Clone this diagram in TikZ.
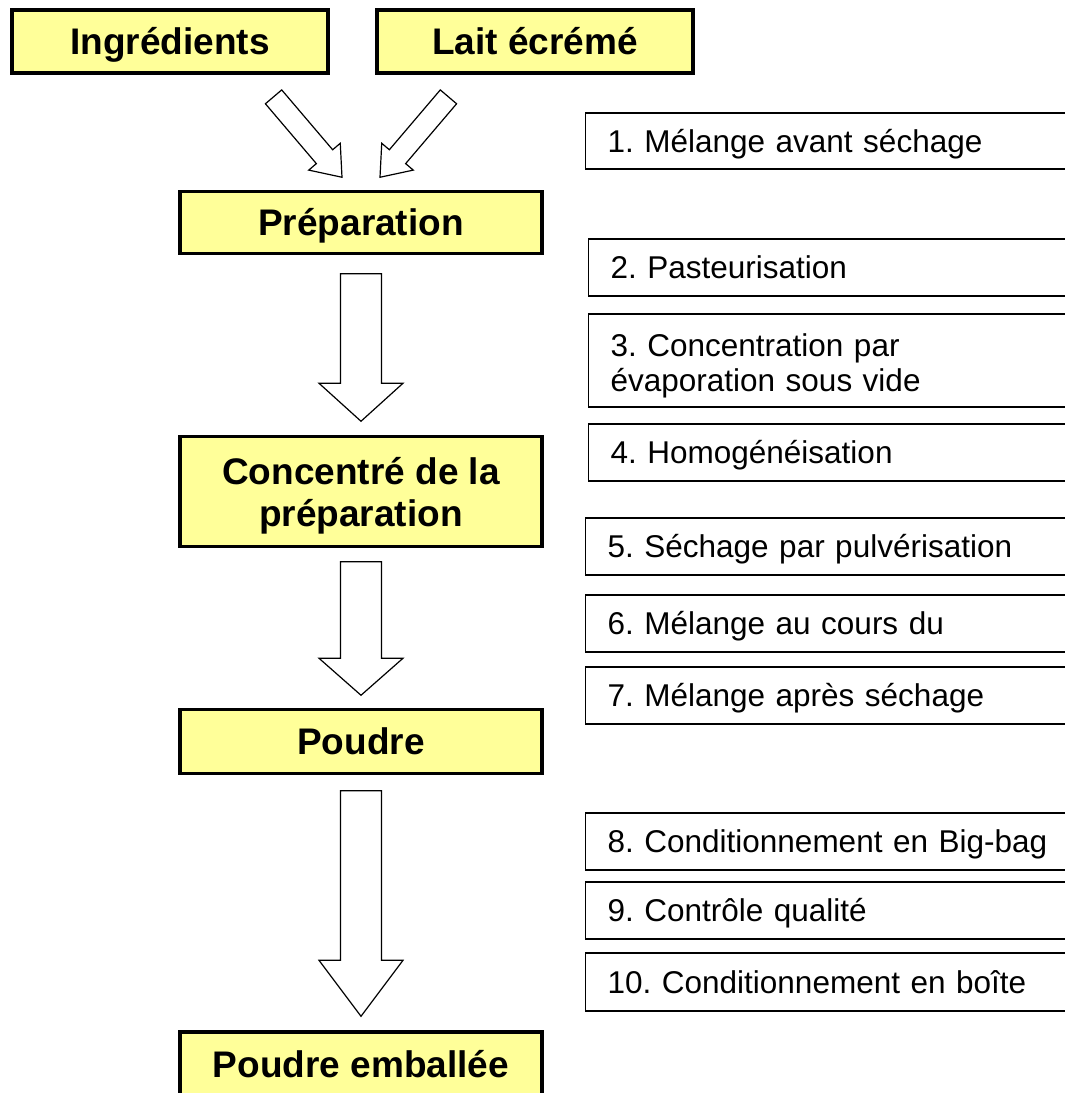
\documentclass[tikz,border=0pt]{standalone}
\usepackage{fontspec}
\setmainfont{Liberation Sans}
\usetikzlibrary{calc}
\definecolor{yfill}{HTML}{FFFF99}
\tikzset{
  ybox/.style={draw=black, line width=3.5pt, fill=yfill, minimum width=362pt, inner sep=0pt,
    font=\fontsize{37}{42}\selectfont\bfseries, align=center},
  yone/.style={text height=26.5pt, text depth=0pt},
  sbox/.style={draw=black, line width=1.3pt, anchor=west, inner xsep=22pt, inner ysep=0pt,
    text width=460pt, align=left, font=\fontsize{31.5}{35}\selectfont\frenchspacing},
  sone/.style={text height=22.6pt, text depth=0pt},
  barrow/.style={draw=black, line width=1.2pt, fill=white, line join=miter},
}
\newcommand{\vbarrow}[5]{%
  \draw[barrow] let \p1=($(#1.south)+(0,-#3)$), \p2=($(#2.north)+(0,#4)$) in
    (\x1-20.5pt,\y1) -- (\x1+20.5pt,\y1) -- (\x1+20.5pt,\y2+#5pt) -- (\x1+42pt,\y2+#5pt)
    -- (\x1,\y2) -- (\x1-42pt,\y2+#5pt) -- (\x1-20.5pt,\y2+#5pt) -- cycle;}
\begin{document}
\frenchspacing
\begin{tikzpicture}[x=1pt,y=1pt]
\useasboundingbox (0,0) rectangle (1065,-1093);
\clip (0,0) rectangle (1065,-1093);
% main boxes
\node[ybox, yone, minimum width=316pt, minimum height=63pt] (ing) at (170,-41.5) {Ingrédients};
\node[ybox, yone, minimum width=316pt, minimum height=63pt] (lait) at (535,-41.5) {Lait écrémé};
\node[ybox, yone, minimum height=62pt] (prep) at (361,-222.5) {Préparation};
\node[ybox, minimum height=110pt, text depth=0pt] (conc) at (361,-491.5) {Concentré de la\\préparation};
\node[ybox, yone, minimum height=64pt] (pou) at (361,-741.5) {Poudre};
\node[ybox, yone, minimum height=64pt] (emb) at (361,-1064) {Poudre emballée};
% step boxes
\node[sbox, sone, minimum height=56pt] (s1) at (585,-141) {1. Mélange avant séchage};
\node[sbox, sone, minimum height=57pt] (s2) at (588,-267.5) {2. Pasteurisation};
\node[sbox, text height=27pt, text depth=36pt, minimum height=93pt] (s3) at (588,-360.5) {3. Concentration par\\évaporation sous vide};
\node[sbox, sone, minimum height=57pt] (s4) at (588,-452.5) {4. Homogénéisation};
\node[sbox, sone, minimum height=57pt] (s5) at (585,-546.5) {5. Séchage par pulvérisation};
\node[sbox, sone, minimum height=57pt] (s6) at (585,-623.5) {6. Mélange au cours du};
\node[sbox, sone, minimum height=57pt] (s7) at (585,-695.5) {7. Mélange après séchage};
\node[sbox, sone, minimum height=57pt] (s8) at (585,-841.5) {8. Conditionnement en Big-bag};
\node[sbox, sone, minimum height=57pt] (s9) at (585,-910.5) {9. Contrôle qualité};
\node[sbox, sone, minimum height=58pt] (s10) at (585,-982) {10. Conditionnement en boîte};
% diagonal block arrows
\coordinate (tipL) at ($(prep.north)+(-19,12.5)$);
\coordinate (tipR) at ($(prep.north)+(19,12.5)$);
\begin{scope}[shift={(tipL)}, rotate=-49.6]
  \draw[barrow] (0,0) -- (-27,20.7) -- (-27,10.7) -- (-105.6,10.7) -- (-105.6,-10.7)
    -- (-27,-10.7) -- (-27,-20.7) -- cycle;
\end{scope}
\begin{scope}[shift={(tipR)}, rotate=-130.4]
  \draw[barrow] (0,0) -- (-27,20.7) -- (-27,10.7) -- (-105.6,10.7) -- (-105.6,-10.7)
    -- (-27,-10.7) -- (-27,-20.7) -- cycle;
\end{scope}
% vertical block arrows
\vbarrow{prep}{conc}{18.5}{13.5}{38}
\vbarrow{conc}{pou}{13.5}{12.5}{37}
\vbarrow{pou}{emb}{15.5}{14}{56}
\end{tikzpicture}
\end{document}
